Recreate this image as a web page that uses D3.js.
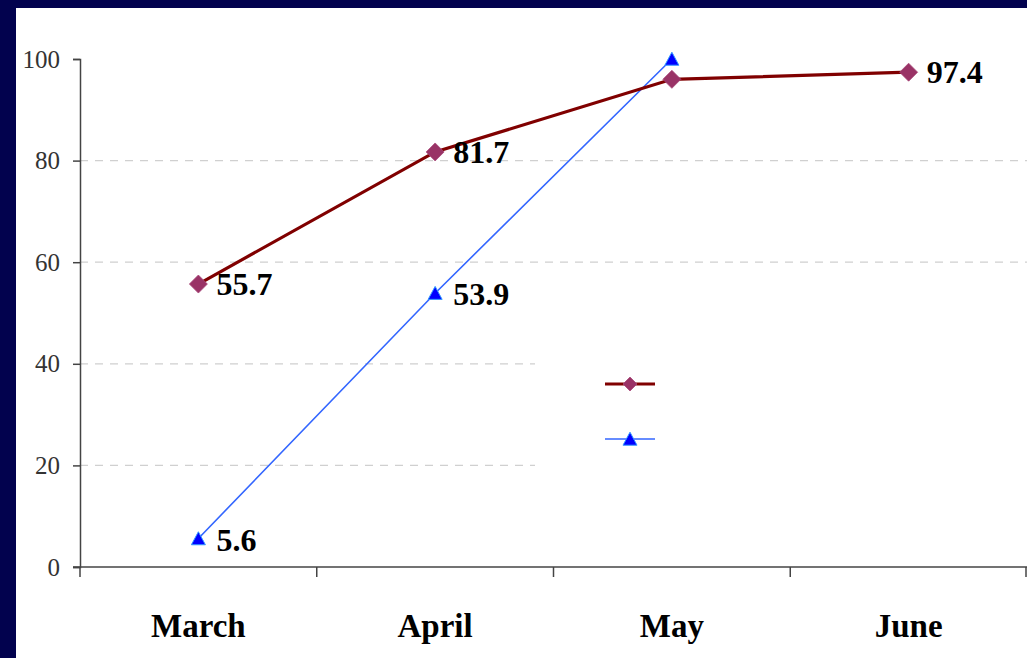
<!DOCTYPE html>
<html>
<head>
<meta charset="utf-8">
<script src="https://cdn.jsdelivr.net/npm/d3@7"></script>
<style>
  html, body { margin: 0; padding: 0; background: #ffffff; }
  svg { display: block; }
  .serif { font-family: "Liberation Serif", "DejaVu Serif", Times, serif; }
</style>
</head>
<body>
<svg id="chart" width="1027" height="658"></svg>
<script>
// Monthly values for two series
const categories = ["March", "April", "May", "June"];
const seriesA = [55.7, 81.7, 96.0, 97.4];
const seriesB = [5.6, 53.9, 100, null];
// Which points carry a value label
const labelA = [true, true, false, true];
const labelB = [true, true, false, false];
const yTicks = [0, 20, 40, 60, 80, 100];

const W = 1027, H = 658;
const svg = d3.select("#chart");

// Navy frame along the top and left edges
svg.append("rect").attr("x", 0).attr("y", 0).attr("width", W).attr("height", H).attr("fill", "#02024e");
svg.append("rect").attr("x", 16).attr("y", 8).attr("width", W - 16).attr("height", H - 8).attr("fill", "#ffffff");

const plot = { left: 80, right: 1027, top: 59, bottom: 567 };

const x = d3.scaleBand().domain(categories).range([plot.left, plot.right]);
const y = d3.scaleLinear().domain([0, 100]).range([plot.bottom, plot.top]);
const cx = c => x(c) + x.bandwidth() / 2;

const serif = "Liberation Serif, DejaVu Serif, Times, serif";

// Dashed horizontal gridlines
svg.append("g")
  .selectAll("line")
  .data(yTicks.filter(t => t > 0 && t < 100))
  .join("line")
  .attr("x1", plot.left).attr("x2", plot.right)
  .attr("y1", d => y(d)).attr("y2", d => y(d))
  .attr("stroke", "#d0d0d0")
  .attr("stroke-width", 1.3)
  .attr("stroke-dasharray", "8,7");

// Legend box (entries without names) sits over the lower right of the plot
const legend = svg.append("g");
legend.append("rect")
  .attr("x", 535).attr("y", 330).attr("width", W - 535).attr("height", 160)
  .attr("fill", "#ffffff");

// Y axis
const yAxis = d3.axisLeft(y).tickValues(yTicks).tickSize(7).tickPadding(13);
const gy = svg.append("g").attr("transform", `translate(${plot.left},0)`).call(yAxis);
gy.attr("font-family", serif).attr("font-size", 25);
gy.select(".domain").attr("stroke", "#444").attr("stroke-width", 1.5);
gy.selectAll(".tick line").attr("stroke", "#444").attr("stroke-width", 1.5);
gy.selectAll(".tick text")
  .attr("class", "serif")
  .style("font-family", serif).style("font-size", "25px").attr("fill", "#333");

// X axis with ticks between categories
const gx = svg.append("g").attr("transform", `translate(0,${plot.bottom})`);
gx.append("line")
  .attr("x1", plot.left - 7).attr("x2", plot.right)
  .attr("y1", 0).attr("y2", 0)
  .attr("stroke", "#444").attr("stroke-width", 1.5);
const boundaries = categories.map(c => x(c)).concat([x(categories[categories.length - 1]) + x.bandwidth()]);
gx.selectAll("line.bt")
  .data(boundaries)
  .join("line")
  .attr("class", "bt")
  .attr("x1", d => Math.min(d, plot.right - 1)).attr("x2", d => Math.min(d, plot.right - 1))
  .attr("y1", 0).attr("y2", 10)
  .attr("stroke", "#444").attr("stroke-width", 1.5);
gx.selectAll("text")
  .data(categories)
  .join("text")
  .attr("x", d => cx(d))
  .attr("y", 70)
  .attr("text-anchor", "middle")
  .style("font-family", serif)
  .attr("font-weight", "bold")
  .attr("font-size", 33)
  .attr("fill", "#000")
  .text(d => d);

// Series lines
const ptsA = categories.map((c, i) => ({ c, v: seriesA[i], lab: labelA[i] })).filter(d => d.v != null);
const ptsB = categories.map((c, i) => ({ c, v: seriesB[i], lab: labelB[i] })).filter(d => d.v != null);

const line = d3.line().x(d => cx(d.c)).y(d => y(d.v));

svg.append("path").datum(ptsB)
  .attr("d", line).attr("fill", "none")
  .attr("stroke", "#3366ff").attr("stroke-width", 1.6);

svg.append("path").datum(ptsA)
  .attr("d", line).attr("fill", "none")
  .attr("stroke", "#800000").attr("stroke-width", 3.2);

const diamond = (s) => `M0,${-s}L${s},0L0,${s}L${-s},0Z`;
const triangle = (w, h) => `M0,${-h * 0.6}L${w / 2},${h * 0.4}L${-w / 2},${h * 0.4}Z`;

// Markers
svg.append("g").selectAll("path")
  .data(ptsA).join("path")
  .attr("transform", d => `translate(${cx(d.c)},${y(d.v)})`)
  .attr("d", diamond(9))
  .attr("fill", "#993366").attr("stroke", "#a8487a").attr("stroke-width", 0.8);

svg.append("g").selectAll("path")
  .data(ptsB).join("path")
  .attr("transform", d => `translate(${cx(d.c)},${y(d.v) + 1})`)
  .attr("d", triangle(14, 13))
  .attr("fill", "#0000ff").attr("stroke", "#3399ff").attr("stroke-width", 1);

// Value labels
const labelStyle = sel => sel
  .style("font-family", serif).attr("font-weight", "bold")
  .attr("font-size", 32).attr("fill", "#000");

svg.append("g").selectAll("text")
  .data(ptsA.filter(d => d.lab)).join("text")
  .attr("x", d => cx(d.c) + 18).attr("y", d => y(d.v) + 11)
  .call(labelStyle)
  .text(d => d.v.toFixed(1));

svg.append("g").selectAll("text")
  .data(ptsB.filter(d => d.lab)).join("text")
  .attr("x", d => cx(d.c) + 18).attr("y", d => y(d.v) + 12)
  .call(labelStyle)
  .text(d => d.v.toFixed(1));

// Legend keys
legend.append("line").attr("x1", 605).attr("x2", 655).attr("y1", 384).attr("y2", 384)
  .attr("stroke", "#800000").attr("stroke-width", 3.2);
legend.append("path").attr("transform", "translate(630,384)").attr("d", diamond(7))
  .attr("fill", "#993366").attr("stroke", "#a8487a").attr("stroke-width", 0.8);
legend.append("line").attr("x1", 605).attr("x2", 655).attr("y1", 439).attr("y2", 439)
  .attr("stroke", "#3366ff").attr("stroke-width", 1.6);
legend.append("path").attr("transform", "translate(630,440)").attr("d", triangle(14, 13))
  .attr("fill", "#0000ff").attr("stroke", "#3399ff").attr("stroke-width", 1);
</script>
</body>
</html>
